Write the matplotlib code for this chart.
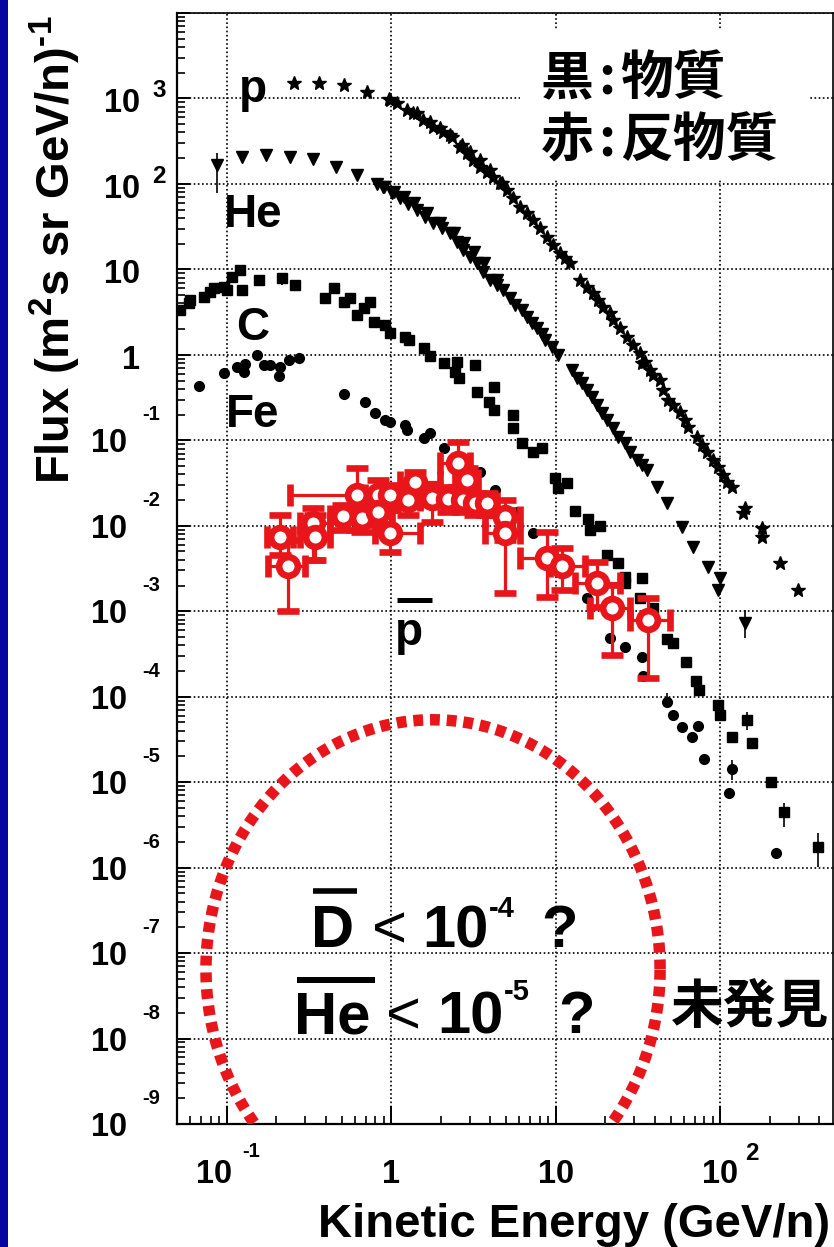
import numpy as np
import matplotlib
matplotlib.use("Agg")
import matplotlib.pyplot as plt
import matplotlib.transforms as mtransforms
from matplotlib.ticker import LogLocator, NullFormatter
from matplotlib.patches import Rectangle
from matplotlib.lines import Line2D

plt.rcParams['font.family'] = ['Liberation Sans', 'Noto Sans CJK JP', 'DejaVu Sans']
plt.rcParams['mathtext.fontset'] = 'custom'
plt.rcParams['mathtext.rm'] = 'Liberation Sans:bold'
plt.rcParams['mathtext.bf'] = 'Liberation Sans:bold'
plt.rcParams['mathtext.it'] = 'Liberation Sans:bold'

# ---------------- data ----------------
# protons (stars)
p_E = [0.257, 0.365, 0.518, 0.715, 0.972, 0.986, 1.087, 1.25, 1.36, 1.44, 1.56, 1.73, 1.80, 1.99,
       2.07, 2.28, 2.35, 2.63, 2.70, 2.90, 3.02, 3.15, 3.48, 3.48, 3.83, 4.00, 4.17, 4.60, 4.73,
       5.07, 5.52, 6.08, 6.71, 7.30, 8.05, 8.88, 9.66, 10.6, 11.4, 12.2, 14.1, 15.5, 16.9, 18.1,
       19.4, 21.4, 22.4, 24.7, 27.2, 29.6, 32.6, 33.6, 35.0, 37.5, 39.1, 43.1, 45.0, 48.3, 51.8,
       57.1, 61.2, 63.9, 72.5, 77.8, 83.4, 90.7, 97.3, 104, 110, 118, 142, 138, 180, 180, 232, 298]
p_F = [1518, 1518, 1438, 1191, 986, 960, 885, 733, 676, 676, 561, 531, 464, 452,
       405, 374, 355, 271, 286, 230, 237, 191, 191, 158, 138, 146, 121, 103, 103,
       85.1, 68.6, 53.8, 45.8, 37.9, 30.6, 24.0, 19.4, 15.6, 13.6, 11.9, 7.54, 6.24, 5.31, 4.40,
       3.64, 3.10, 2.57, 2.07, 1.62, 1.31, 1.05, 0.806, 0.828, 0.668, 0.584, 0.511, 0.390, 0.298,
       0.260, 0.216, 0.174, 0.144, 0.110, 0.0886, 0.0733, 0.0591, 0.0490, 0.0395, 0.0327,
       0.0286, 0.0162, 0.0142, 0.00948, 0.00743, 0.00369, 0.00178]

# helium (down triangles)
he_E = [0.0875, 0.124, 0.174, 0.243, 0.336, 0.463, 0.621, 0.822, 0.894, 0.906, 1.01, 1.04, 1.134,
        1.20, 1.27, 1.38, 1.44, 1.61, 1.66, 1.80, 1.99, 2.04, 2.28, 2.42, 2.52, 2.74, 2.78, 3.02,
        3.20, 3.33, 3.62, 3.68, 4.00, 4.41, 4.41, 4.80, 5.29, 5.67, 6.26, 6.71, 7.20, 7.73, 8.28,
        8.63, 9.52, 10.4, 12.6, 13.5, 14.5, 15.5, 16.7, 17.9, 19.2, 20.6, 22.4, 24.0, 26.4, 28.4,
        31.3, 33.6, 36.0, 41.4, 47.6, 58.7, 68.5, 84.6, 100, 97.3, 142]
he_F = [167, 207, 218, 207, 196, 158, 127, 100, 92.2, 92.2, 78.5, 80.6, 68.6,
        70.5, 58.3, 60.0, 49.7, 41.1, 45.8, 35.0, 35.0, 30.6, 26.7, 26.7, 21.0, 16.9, 20.4, 14.0,
        16.0, 11.9, 9.35, 11.9, 7.54, 7.54, 6.59, 5.75, 4.64, 3.84, 3.36, 2.78, 2.37, 2.07, 1.76,
        1.50, 1.24, 1.0, 0.668, 0.538, 0.471, 0.390, 0.323, 0.260, 0.210, 0.174, 0.140, 0.110,
        0.0935, 0.0733, 0.0591, 0.0516, 0.0452, 0.0286, 0.0186, 0.00973, 0.00568, 0.00331,
        0.00247, 0.00178, 0.000733]
he_err_E = [0.0875, 142]
he_err_mid = [167, 0.000733]
he_err_lo = [78.5, 0.00049]
he_err_hi = [231, 0.00104]

# carbon (squares)
c_E = [0.0521, 0.0592, 0.060, 0.0730, 0.0794, 0.0840, 0.0966, 0.1007, 0.108, 0.121, 0.124, 0.158,
       0.217, 0.261, 0.397, 0.450, 0.518, 0.563, 0.621, 0.685, 0.745, 0.788, 0.920, 0.986, 1.22,
       1.29, 1.59, 1.73, 2.10, 2.52, 2.45, 2.59, 3.24, 3.33, 3.94, 4.23, 4.23, 5.52, 5.52, 6.26,
       7.30, 8.28, 9.93, 10.4, 11.7, 13.1, 15.8, 16.2, 18.7, 20.6, 24.0, 26.4, 26.4, 33.6, 32.6,
       39.1, 47.6, 51.8, 62.1, 71.4, 74.5, 97.3, 100, 118, 146, 157, 204, 245, 394]
c_F = [3.36, 4.06, 4.40, 4.77, 5.46, 6.08, 6.24, 5.75, 8.17, 9.86, 5.75, 7.54,
       7.96, 6.59, 4.64, 6.08, 4.17, 4.64, 2.94, 3.55, 4.17, 2.43, 2.24, 1.81, 1.62,
       1.50, 1.21, 0.973, 0.806, 0.828, 0.633, 0.538, 0.764, 0.369, 0.282, 0.422, 0.227, 0.199,
       0.140, 0.0935, 0.0733, 0.0817, 0.0364, 0.0278, 0.0318, 0.0150, 0.0121, 0.00898, 0.0100,
       0.00458, 0.00369, 0.00253, 0.00215, 0.00247, 0.00144, 0.00110, 0.000477, 0.000428,
       0.000257, 0.000154, 0.000121, 8.06e-5, 6.16e-5, 3.40e-5, 5.38e-5, 2.90e-5, 1.01e-5,
       4.52e-6, 1.76e-6]
c_err_E = [0.217, 146, 245, 394]
c_err_mid = [7.96, 5.38e-5, 4.52e-6, 1.76e-6]
c_err_lo = [6.6, 4.11e-5, 3.02e-6, 1.03e-6]
c_err_hi = [8.6, 6.68e-5, 5.75e-6, 2.57e-6]

# iron (circles)
fe_E = [0.068, 0.0966, 0.116, 0.129, 0.128, 0.153, 0.169, 0.184, 0.208, 0.211, 0.240, 0.276,
        0.518, 0.695, 0.800, 0.920, 0.986, 1.22, 1.25, 1.59, 1.73, 2.10, 3.48, 4.29, 5.83, 7.30,
        15.5, 21.4, 26.4, 33.6, 34.1, 47.6, 51.8, 58.7, 67.6, 73.5, 79.9, 118, 113, 219]
fe_F = [0.434, 0.616, 0.724, 0.785, 0.633, 1.0, 0.764, 0.764, 0.568, 0.724, 0.874, 0.922,
        0.350, 0.282, 0.210, 0.174, 0.165, 0.152, 0.133, 0.107, 0.122, 0.0817, 0.0428, 0.0264,
        0.0146, 0.00828, 0.00144, 0.00049, 0.000384, 0.000294, 0.000176, 8.75e-5, 6.16e-5,
        4.46e-5, 3.40e-5, 4.58e-5, 1.88e-5, 1.44e-5, 7.54e-6, 1.50e-6]
fe_err_E = [47.6, 118]
fe_err_mid = [8.75e-5, 1.44e-5]
fe_err_lo = [7.8e-5, 1.07e-5]
fe_err_hi = [1.1e-4, 1.83e-5]

# antiprotons (red open circles)
pbar_E = [0.211, 0.237, 0.336, 0.345, 0.511, 0.621, 0.667, 0.834, 0.834, 0.986, 0.986, 1.27, 1.40,
          1.78, 2.22, 2.55, 2.90, 2.74, 3.24, 3.84, 4.93, 4.93, 8.88, 10.96, 17.9, 22.0, 36.5]
pbar_F = [7.43e-3, 3.40e-3, 1.08e-2, 7.43e-3, 1.31e-2, 2.31e-2, 1.24e-2, 2.31e-2, 1.46e-2,
          2.31e-2, 8.28e-3, 2.01e-2, 3.27e-2, 2.12e-2, 2.07e-2, 5.46e-2, 3.45e-2, 2.01e-2,
          1.86e-2, 1.86e-2, 1.27e-2, 8.28e-3, 4.22e-3, 3.40e-3, 2.15e-3, 1.10e-3, 7.96e-4]
pbar_Elo = [0.176, 0.179, 0.280, 0.280, 0.426, 0.243, 0.525, 0.695, 0.695, 0.857, 0.800, 1.057,
            1.134, 1.50, 1.85, 1.99, 2.45, 2.35, 2.82, 3.29, 3.73, 3.73, 6.09, 9.26, 13.1, 16.2, 28.4]
pbar_Ehi = [0.254, 0.300, 0.426, 0.426, 0.621, 0.857, 0.857, 1.014, 1.014, 1.183, 1.50, 1.50,
            1.99, 2.13, 2.63, 3.02, 3.38, 3.24, 3.73, 4.41, 6.09, 6.09, 9.93, 15.1, 24.7, 28.4, 49.7]
pbar_Flo = [0.00458, 0.00101, 0.00400, 0.00400, 0.00898, 0.00898, 0.00851, 0.0154, 0.0103,
            0.0154, 0.00497, 0.0135, 0.0201, 0.0111, 0.0146, 0.0286, 0.0231, 0.0146, 0.0135,
            0.0135, 0.00686, 0.00164, 0.00148, 0.00178, 0.00113, 0.00031, 0.000167]
pbar_Fhi = [0.0135, 0.00686, 0.0162, 0.0135, 0.0176, 0.0477, 0.0176, 0.0345, 0.0201, 0.0302,
            0.0154, 0.0278, 0.0428, 0.0302, 0.0286, 0.0960, 0.0477, 0.0264, 0.0243, 0.0243,
            0.0201, 0.0154, 0.00851, 0.00553, 0.00379, 0.00204, 0.00144]

y_exponents = list(range(-9, 4))
x_tick_values = [0.1, 1, 10, 100]

# ---------------- figure ----------------
W, H, DPI = 834, 1247, 100
RED = '#e8161b'
fig = plt.figure(figsize=(W / DPI, H / DPI), dpi=DPI)
fig.patch.set_facecolor('white')

L, R, B, T = 177, 833, 1124, 13
ax = fig.add_axes([L / W, 1 - B / H, (R - L) / W, (B - T) / H])
ax.set_xscale('log')
ax.set_yscale('log')
ax.set_xlim(0.05, 485)
ax.set_ylim(1e-9, 1e4)

ax.xaxis.set_major_locator(LogLocator(base=10, numticks=30))
ax.xaxis.set_minor_locator(LogLocator(base=10, subs=np.arange(2, 10), numticks=30))
ax.yaxis.set_major_locator(LogLocator(base=10, numticks=30))
ax.yaxis.set_minor_locator(LogLocator(base=10, subs=np.arange(2, 10), numticks=30))
ax.xaxis.set_minor_formatter(NullFormatter())
ax.yaxis.set_minor_formatter(NullFormatter())
ax.tick_params(labelbottom=False, labelleft=False)
ax.tick_params(axis='x', which='major', direction='in', length=13, width=1.4)
ax.tick_params(axis='x', which='minor', direction='in', length=6, width=1.2)
ax.tick_params(axis='y', which='major', direction='in', length=9.5, width=1.4)
ax.tick_params(axis='y', which='minor', direction='in', length=6, width=1.2)
for s in ['left', 'bottom']:
    ax.spines[s].set_linewidth(1.6)
for s in ['top', 'right']:
    ax.spines[s].set_linewidth(1.2)

ax.set_axisbelow(True)
ax.grid(True, which='major', color='black', linewidth=1.2, linestyle=(0, (1, 1.5)))

# white box behind the legend text
ax.add_patch(Rectangle((520 / W, 1 - 180 / H), (808 - 520) / W, 150 / H,
                       transform=fig.transFigure, facecolor='white', edgecolor='none', zorder=1))

# series
ax.plot(p_E, p_F, ls='none', marker='*', ms=10, color='black', zorder=4)
ax.plot(he_E, he_F, ls='none', marker='v', ms=8, color='black', zorder=4)
ax.plot(c_E, c_F, ls='none', marker='s', ms=6.8, color='black', zorder=4)
ax.plot(fe_E, fe_F, ls='none', marker='o', ms=7, color='black', zorder=4)
for xs, mid, lo, hi in [(he_err_E, he_err_mid, he_err_lo, he_err_hi),
                        (c_err_E, c_err_mid, c_err_lo, c_err_hi),
                        (fe_err_E, fe_err_mid, fe_err_lo, fe_err_hi)]:
    m = np.array(mid)
    ax.errorbar(xs, m, yerr=[m - np.array(lo), np.array(hi) - m],
                fmt='none', ecolor='black', elinewidth=1.2, zorder=4)

pE = np.array(pbar_E); pF = np.array(pbar_F)
ax.errorbar(pE, pF,
            xerr=[pE - np.array(pbar_Elo), np.array(pbar_Ehi) - pE],
            yerr=[pF - np.array(pbar_Flo), np.array(pbar_Fhi) - pF],
            fmt='o', ms=13.5, mfc='white', mec=RED, mew=4.8, ecolor=RED,
            elinewidth=2.3, capsize=8, capthick=2.3, zorder=6)

# dashed red "undiscovered" circle (in log space)
circ_logx, circ_logy = 0.255, -7.19
circ_ax, circ_ay = 1.38, 2.92
t = np.linspace(0, 2 * np.pi, 600)
ax.plot(10 ** (circ_logx + circ_ax * np.cos(t)), 10 ** (circ_logy + circ_ay * np.sin(t)),
        color=RED, lw=8.3, linestyle=(0, (0.85, 0.6)), dash_capstyle='butt', zorder=3)

# ---------------- tick labels (ROOT style) ----------------
TF = 23.5
for n in y_exponents:
    if n >= 0:
        main = '1' if n == 0 else '10'
        tr = mtransforms.offset_copy(ax.get_yaxis_transform(), fig=fig, x=-37, y=-14, units='dots')
        ax.text(0, 10.0 ** n, main, transform=tr, ha='right', va='baseline',
                fontsize=TF, fontweight='bold')
        if n >= 2:
            tr2 = mtransforms.offset_copy(ax.get_yaxis_transform(), fig=fig, x=-25, y=1, units='dots')
            ax.text(0, 10.0 ** n, str(n), transform=tr2, ha='left', va='baseline',
                    fontsize=17.5, fontweight='bold')
    else:
        tr = mtransforms.offset_copy(ax.get_yaxis_transform(), fig=fig, x=-50, y=-12, units='dots')
        ax.text(0, 10.0 ** n, '10', transform=tr, ha='right', va='baseline',
                fontsize=TF, fontweight='bold')
        tr2 = mtransforms.offset_copy(ax.get_yaxis_transform(), fig=fig, x=-35, y=20, units='dots')
        ax.text(0, 10.0 ** n, '-%d' % (-n), transform=tr2, ha='left', va='baseline',
                fontsize=14.5, fontweight='bold')

xspec = {0.1: ('10', -12, '-1', 16, -33, 14.5), 1: ('1', 0, None, 0, 0, 0),
         10: ('10', 0, None, 0, 0, 0), 100: ('10', 0, '2', 25, -36, 17.5)}
for v in x_tick_values:
    main, dx, ex, edx, edy, efs = xspec[v]
    tr = mtransforms.offset_copy(ax.get_xaxis_transform(), fig=fig, x=dx, y=-59, units='dots')
    ax.text(v, 0, main, transform=tr, ha='center', va='baseline', fontsize=TF, fontweight='bold')
    if ex:
        tr2 = mtransforms.offset_copy(ax.get_xaxis_transform(), fig=fig, x=edx, y=edy, units='dots')
        ax.text(v, 0, ex, transform=tr2, ha='left', va='baseline', fontsize=efs, fontweight='bold')

# axis labels
ax.set_xlabel('Kinetic Energy (GeV/n)', fontsize=34, fontweight='bold', ha='right', va='baseline')
ax.xaxis.set_label_coords((830 - L) / (R - L), (B - 1237) / (B - T))
ax.set_ylabel(r'Flux (m$^{\text{2}}$s sr GeV/n)$^{\text{-1}}$', fontsize=34,
              fontweight='bold', ha='center', va='center')
ax.yaxis.set_label_coords((55 - L) / (R - L), (B - 250) / (B - T))


# ---------------- annotations (pixel layout) ----------------
def fx(px):
    return px / W


def fy(py):
    return 1 - py / H


bold = dict(fontweight='bold', family='Liberation Sans')
fig.text(fx(239), fy(102), 'p', fontsize=33, ha='left', va='baseline', **bold)
fig.text(fx(224), fy(227), 'He', fontsize=33, ha='left', va='baseline', **bold)
fig.text(fx(236), fy(340), 'C', fontsize=33, ha='left', va='baseline', **bold)
fig.text(fx(226), fy(427), 'Fe', fontsize=33, ha='left', va='baseline', **bold)
fig.text(fx(395), fy(645), 'p', fontsize=33, ha='left', va='baseline', **bold)
fig.add_artist(Line2D([fx(397), fx(432)], [fy(599.5), fy(599.5)], color='black', lw=3.6,
                      solid_capstyle='butt'))

BIG = 43
fig.text(fx(311), fy(947), 'D', fontsize=BIG, ha='left', va='baseline', **bold)
fig.add_artist(Line2D([fx(313), fx(357)], [fy(890.5), fy(890.5)], color='black', lw=4.0,
                      solid_capstyle='butt'))
fig.text(fx(372), fy(947), '<', fontsize=BIG, ha='left', va='baseline', family='Liberation Sans')
fig.text(fx(422), fy(947), '10', fontsize=BIG, ha='left', va='baseline', **bold)
fig.text(fx(489), fy(917), '-4', fontsize=21, ha='left', va='baseline', **bold)
fig.text(fx(541), fy(947), '?', fontsize=BIG, ha='left', va='baseline', **bold)

fig.text(fx(294), fy(1033), 'He', fontsize=BIG, ha='left', va='baseline', **bold)
fig.add_artist(Line2D([fx(297), fx(375)], [fy(980), fy(980)], color='black', lw=4.3,
                      solid_capstyle='butt'))
fig.text(fx(386), fy(1033), '<', fontsize=BIG, ha='left', va='baseline', family='Liberation Sans')
fig.text(fx(437), fy(1033), '10', fontsize=BIG, ha='left', va='baseline', **bold)
fig.text(fx(504), fy(1000), '-5', fontsize=21, ha='left', va='baseline', **bold)
fig.text(fx(558), fy(1033), '?', fontsize=BIG, ha='left', va='baseline', **bold)

cjk = dict(family=['Noto Sans CJK JP', 'DejaVu Sans'], fontweight='bold', fontsize=38)
fig.text(fx(541), fy(94), '黒', ha='left', va='baseline', **cjk)
fig.text(fx(606.5), fy(94), ':', ha='center', va='baseline', **cjk)
fig.text(fx(620), fy(94), '物質', ha='left', va='baseline', **cjk)
fig.text(fx(541), fy(156), '赤', ha='left', va='baseline', **cjk)
fig.text(fx(606.5), fy(156), ':', ha='center', va='baseline', **cjk)
fig.text(fx(620), fy(156), '反物質', ha='left', va='baseline', **cjk)
fig.text(fx(671), fy(1023), '未発見', ha='left', va='baseline', **cjk)

# blue strip on the left edge
fig.add_artist(Rectangle((0, 0), 8 / W, 1, transform=fig.transFigure, facecolor='#0505a0',
                         edgecolor='none', zorder=10))

fig.savefig('out.png', dpi=DPI, facecolor='white')
